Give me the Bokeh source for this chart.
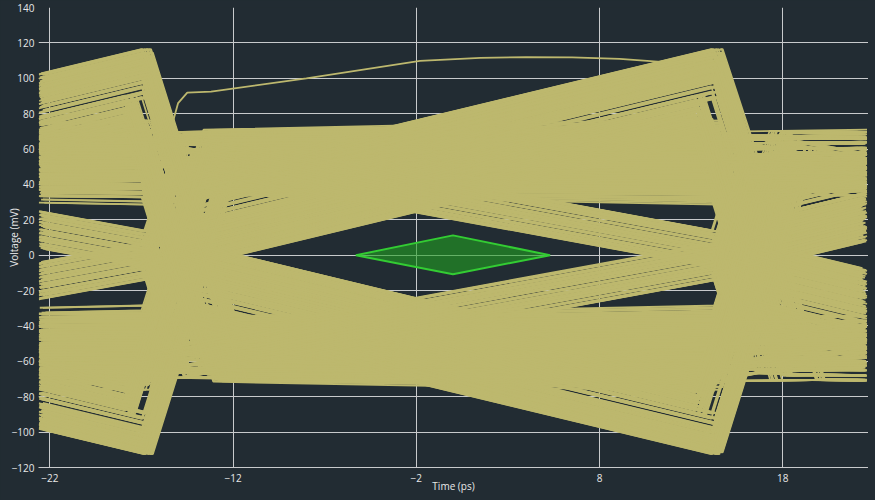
import numpy as np
from bokeh.plotting import figure
from bokeh.models import Range1d, FixedTicker, ColumnDataSource
from bokeh.embed import file_html
from bokeh.resources import INLINE

# ---------------- axes ----------------
X_RANGE = (-22.62, 22.68)
Y_RANGE = (-120, 140)
X_TICKS = [-22, -12, -2, 8, 18]
Y_TICKS = [-120, -100, -80, -60, -40, -20, 0, 20, 40, 60, 80, 100, 120, 140]

# ---------------- eye timing (ps, mV) ----------------
EDGE_TIMES = [-47.8, -16.7, 14.4]   # start of the steep edges (previous UI, left, right)
EDGE_SLEW = 33.0                      # mV / ps of the steep edges
SETTLE = 1.3                          # ps after edge start where a level is referenced

# families of per-UI segments: starting level (mV) + slope (mV/ps)
HIGH_FLAT_LEVELS = [34.5, 35.4, 36.3, 37.2, 38.1, 39, 39.9, 40.8, 41.7, 42.6, 43.5, 44.4, 45.3,
                    46.2, 47.1, 48, 48.9, 49.8, 50.7, 51.6, 52.5, 53.4, 54.3, 55.2, 56.1, 57,
                    57.9, 58.8, 59.7, 60.6, 61.5, 62.4, 63.3, 64.2, 65.1, 66, 66.9, 67.8, 68.7,
                    69.6, 70.5]
LOW_FLAT_LEVELS = [-35, -35.9, -36.8, -37.7, -38.6, -39.5, -40.4, -41.3, -42.2, -43.1, -44,
                   -44.9, -45.8, -46.7, -47.6, -48.5, -49.4, -50.3, -51.2, -52.1, -53, -53.9,
                   -54.8, -55.7, -56.6, -57.5, -58.4, -59.3, -60.2, -61.1, -62, -62.9, -63.8,
                   -64.7, -65.6, -66.5, -67.4, -68.3, -69.2, -70.1, -71]
FLAT_SLOPES = [0.0, 0.16, -0.12, 0.07, -0.2, 0.22, -0.05, 0.1]
RAMP_HIGH_STARTS = [15, 18, 21, 24, 26, 28, 30, 31.5, 33, 34.5, 36, 38, 40, 42]
RAMP_HIGH_SLOPE = 2.5
RAMP_LOW_STARTS = [-15, -18, -21, -24, -26, -28, -30, -31.5, -33, -34, -35, -36, -37, -38]
RAMP_LOW_SLOPE = -2.5
MID_UP_STARTS = [-8.5, -6.5, -4.5, -2.5, -0.5, 1.5, 3.5, 5.5, 7.5, 9.5, 11.5, 13.5, 15.5, 18]
MID_UP_SLOPE = 2.5
MID_DOWN_STARTS = [8.5, 6.5, 4.5, 2.5, 0.5, -1.5, -3.5, -5.5, -7.5, -9.5, -11.5, -13.5, -15.5, -18]
MID_DOWN_SLOPE = -2.5
MID_EDGE_SHIFT = -0.9
DESC_HIGH_STARTS = [50, 52, 54, 56, 58, 60, 62, 64, 66, 68, 70]
DESC_HIGH_SLOPE = -1.9
ASC_LOW_STARTS = [-50, -52, -54, -56, -58, -60, -62, -64, -66, -68, -70]
ASC_LOW_SLOPE = 1.9

EDGE_JITTER = [0.0, 0.22, -0.17, 0.09, -0.3, 0.14, -0.07, 0.32, -0.24, 0.05, -0.12, 0.27, -0.02]
LEFT_TRIM = [0.0, 0.15, 0.05, 0.3, 0.1, 0.22, 0.02, 0.36, 0.12]
RIGHT_TRIM = [0.05, 0.2, 0.0, 0.3, 0.12, 0.42, 0.08, 0.25, 0.5]
REPEATS = 7

# single stray trace across the top of the eye
OUTLIER_X = [-22.6, -17.0, -16.2, -15.4, -15.0, -14.5, -13.2, -8.0, -1.8, 1.5, 4.0, 6.5, 9.1, 11.9, 13.4, 14.3, 15.0, 15.8, 22.6]
OUTLIER_Y = [58, 57, 62, 71, 86, 91.9, 92.4, 100, 109.8, 111.5, 112, 111.8, 111, 108.8, 110.5, 112, 95, 70, 71]

# mask (diamond)
MASK_X = [-5.3, 0.0, 5.3, 0.0]
MASK_Y = [0.0, 11.2, 0.0, -10.8]

BG = "#222c33"
TRACE_COLOR = "#bdb86e"
GRID_COLOR = "#c8cacc"
TEXT_COLOR = "#e8e8e8"

# ---------------- build family table ----------------
FAM = []  # (kind, start, slope, edge_shift)
for v in HIGH_FLAT_LEVELS:
    FAM.append(("flat", v, 0.0, 0.0))
for v in LOW_FLAT_LEVELS:
    FAM.append(("flat", v, 0.0, 0.0))
for v in RAMP_HIGH_STARTS:
    FAM.append(("ramp", v, RAMP_HIGH_SLOPE, 0.0))
for v in RAMP_LOW_STARTS:
    FAM.append(("ramp", v, RAMP_LOW_SLOPE, 0.0))
for v in MID_UP_STARTS:
    FAM.append(("ramp", v, MID_UP_SLOPE, MID_EDGE_SHIFT))
for v in MID_DOWN_STARTS:
    FAM.append(("ramp", v, MID_DOWN_SLOPE, MID_EDGE_SHIFT))
for v in DESC_HIGH_STARTS:
    FAM.append(("ramp", v, DESC_HIGH_SLOPE, 0.0))
for v in ASC_LOW_STARTS:
    FAM.append(("ramp", v, ASC_LOW_SLOPE, 0.0))

n = len(FAM)


def seg(fam, edge, k):
    kind, a, s, sh = fam
    if kind == "flat":
        s = FLAT_SLOPES[k % len(FLAT_SLOPES)]
    ref = edge + SETTLE
    return (lambda x: a + s * (x - ref)), sh


xs_all, ys_all = [], []
for i in range(n * REPEATS):
    f0 = FAM[(i * 29 + 11) % n]
    f1 = FAM[i % n]
    f2 = FAM[(i * 43 + 37) % n]
    j = EDGE_JITTER[i % len(EDGE_JITTER)]
    e0, e1, e2 = EDGE_TIMES[0] + j, EDGE_TIMES[1] + j, EDGE_TIMES[2] + j
    g0, sh0 = seg(f0, e0, i // 3 + 1)
    g1, sh1 = seg(f1, e1, i // n + i)
    g2, sh2 = seg(f2, e2, i // 5 + 2)
    xl = X_RANGE[0] + 0.02 + LEFT_TRIM[i % len(LEFT_TRIM)]
    xr = X_RANGE[1] - 0.08 - RIGHT_TRIM[i % len(RIGHT_TRIM)]
    px, py = [xl], [g0(xl)]
    xa = e1 + sh0
    ya = g0(xa)
    dt = max(abs(g1(e1 + SETTLE) - ya) / EDGE_SLEW, 0.25)
    xb = xa + dt
    px += [xa, xb]
    py += [ya, g1(xb)]
    xc = e2 + sh1
    yc = g1(xc)
    dt = max(abs(g2(e2 + SETTLE) - yc) / EDGE_SLEW, 0.25)
    xd = xc + dt
    px += [xc, xd, xr]
    py += [yc, g2(xd), g2(xr)]
    xs_all.append(px)
    ys_all.append(py)

# ---------------- figure ----------------
p = figure(width=868, height=500, output_backend="svg", toolbar_location=None,
           x_range=Range1d(*X_RANGE), y_range=Range1d(*Y_RANGE),
           min_border_left=38, min_border_right=0, min_border_top=7, min_border_bottom=33)
p.background_fill_color = BG
p.border_fill_color = BG
p.outline_line_color = None

p.xaxis.ticker = FixedTicker(ticks=X_TICKS)
p.yaxis.ticker = FixedTicker(ticks=Y_TICKS)
p.xgrid.ticker = FixedTicker(ticks=X_TICKS)
p.ygrid.ticker = FixedTicker(ticks=Y_TICKS)
for g in (p.xgrid, p.ygrid):
    g.grid_line_color = GRID_COLOR
    g.grid_line_width = 1
for ax in (p.xaxis, p.yaxis):
    ax.major_tick_in = 0
    ax.major_tick_out = 0
    ax.minor_tick_line_color = None
    ax.major_label_text_color = TEXT_COLOR
    ax.major_label_text_font = "Open Sans"
    ax.major_label_text_font_size = "10px"
    ax.axis_label_text_color = TEXT_COLOR
    ax.axis_label_text_font = "Open Sans"
    ax.axis_label_text_font_size = "10px"
    ax.axis_label_text_font_style = "normal"
p.xaxis.axis_label_standoff = -6
p.yaxis.axis_label_standoff = -12
p.yaxis.axis_line_color = None
p.xaxis.axis_line_color = GRID_COLOR
p.xaxis.major_label_standoff = 6
p.yaxis.major_label_standoff = 4
p.xaxis.axis_label = "Time (ps)"
p.yaxis.axis_label = "Voltage (mV)"

src = ColumnDataSource(dict(xs=xs_all, ys=ys_all))
p.multi_line("xs", "ys", source=src, line_color=TRACE_COLOR, line_width=1.8)
p.line(OUTLIER_X, OUTLIER_Y, line_color=TRACE_COLOR, line_width=1.8)

p.patch(MASK_X, MASK_Y, fill_color="#22a022", fill_alpha=0.6, line_color="#33cc33", line_width=2)

html = file_html(p, INLINE)
html = html.replace("<head>", "<head><style>html,body{background:#222c33;}</style>", 1)
open("out.html", "w").write(html)
